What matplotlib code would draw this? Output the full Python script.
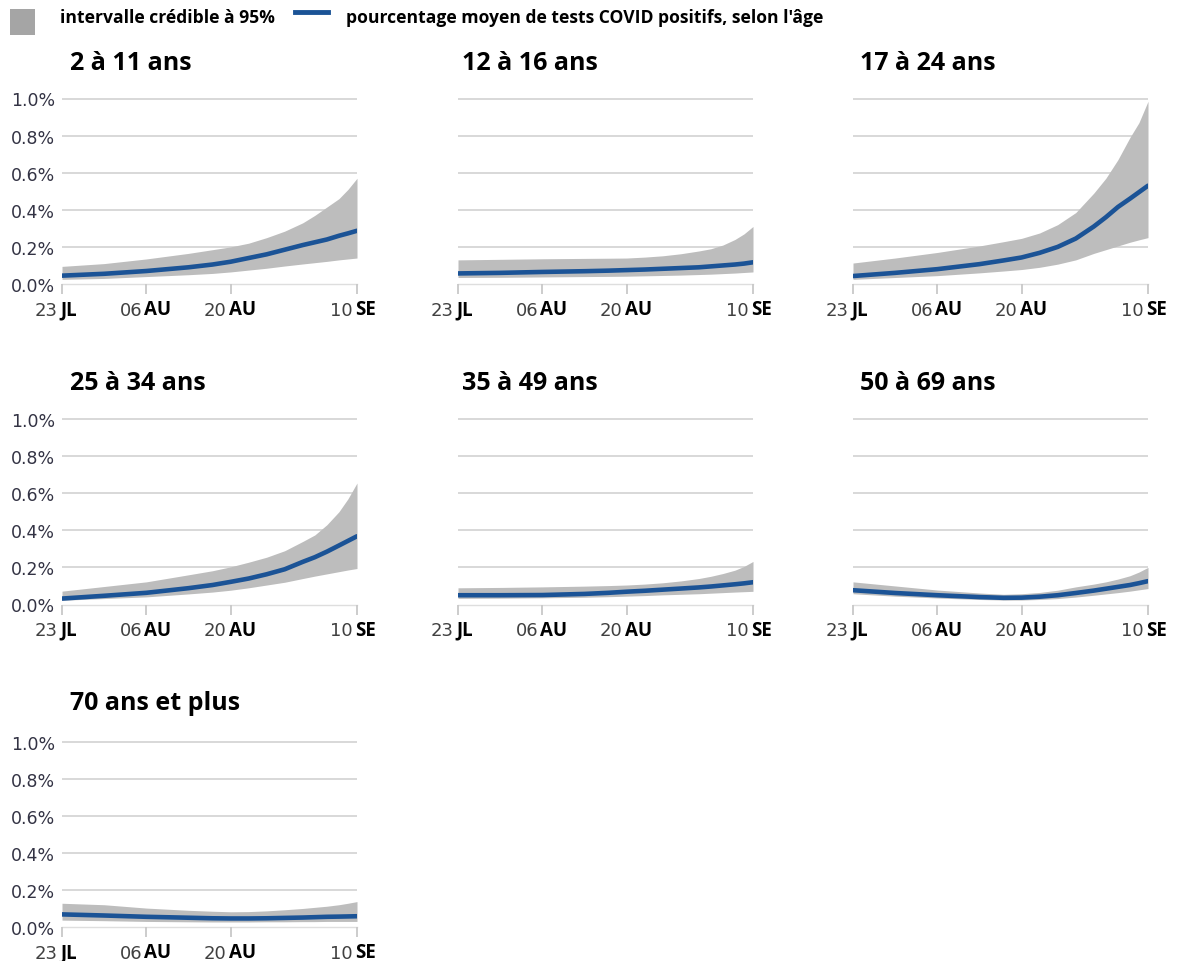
import matplotlib
matplotlib.use("Agg")
import matplotlib.pyplot as plt
from matplotlib.transforms import offset_copy

# days since 23 July
days = [0, 7, 14, 21, 25, 28, 31, 34, 37, 40, 42, 44, 46, 47.5, 49]

titles = ["2 à 11 ans", "12 à 16 ans", "17 à 24 ans", "25 à 34 ans",
          "35 à 49 ans", "50 à 69 ans", "70 ans et plus"]

mean_2_11 = [0.045, 0.055, 0.07, 0.09, 0.105, 0.12, 0.14, 0.16, 0.185, 0.21, 0.225, 0.24, 0.26, 0.273, 0.287]
upper_2_11 = [0.095, 0.11, 0.135, 0.165, 0.185, 0.20, 0.22, 0.25, 0.285, 0.33, 0.37, 0.415, 0.46, 0.51, 0.57]
lower_2_11 = [0.025, 0.03, 0.04, 0.05, 0.057, 0.065, 0.075, 0.085, 0.097, 0.108, 0.115, 0.122, 0.13, 0.135, 0.14]

mean_12_16 = [0.057, 0.06, 0.065, 0.069, 0.072, 0.075, 0.078, 0.082, 0.086, 0.09, 0.095, 0.1, 0.105, 0.11, 0.117]
upper_12_16 = [0.13, 0.133, 0.136, 0.138, 0.139, 0.14, 0.145, 0.152, 0.163, 0.178, 0.19, 0.21, 0.24, 0.27, 0.31]
lower_12_16 = [0.035, 0.036, 0.038, 0.04, 0.041, 0.042, 0.044, 0.046, 0.048, 0.051, 0.053, 0.056, 0.059, 0.062, 0.065]

mean_17_24 = [0.043, 0.06, 0.08, 0.107, 0.127, 0.143, 0.168, 0.2, 0.245, 0.31, 0.36, 0.415, 0.46, 0.495, 0.53]
upper_17_24 = [0.113, 0.14, 0.17, 0.205, 0.228, 0.246, 0.275, 0.32, 0.385, 0.49, 0.57, 0.67, 0.79, 0.87, 0.985]
lower_17_24 = [0.025, 0.035, 0.045, 0.06, 0.07, 0.078, 0.09, 0.107, 0.13, 0.165, 0.185, 0.205, 0.225, 0.238, 0.25]

mean_25_34 = [0.032, 0.047, 0.063, 0.088, 0.105, 0.122, 0.14, 0.163, 0.19, 0.23, 0.255, 0.285, 0.318, 0.343, 0.368]
upper_25_34 = [0.072, 0.097, 0.122, 0.16, 0.182, 0.203, 0.228, 0.255, 0.29, 0.34, 0.375, 0.43, 0.5, 0.57, 0.655]
lower_25_34 = [0.023, 0.032, 0.041, 0.057, 0.067, 0.077, 0.09, 0.105, 0.12, 0.14, 0.153, 0.165, 0.177, 0.186, 0.194]

mean_35_49 = [0.05, 0.05, 0.051, 0.057, 0.063, 0.069, 0.074, 0.08, 0.086, 0.092, 0.097, 0.103, 0.109, 0.114, 0.12]
upper_35_49 = [0.09, 0.092, 0.095, 0.099, 0.102, 0.105, 0.11, 0.117, 0.127, 0.14, 0.152, 0.167, 0.185, 0.205, 0.232]
lower_35_49 = [0.033, 0.034, 0.036, 0.039, 0.042, 0.045, 0.048, 0.052, 0.055, 0.058, 0.061, 0.064, 0.067, 0.069, 0.071]

mean_50_69 = [0.077, 0.062, 0.05, 0.04, 0.036, 0.037, 0.042, 0.05, 0.062, 0.075, 0.085, 0.095, 0.105, 0.115, 0.126]
upper_50_69 = [0.122, 0.1, 0.078, 0.062, 0.055, 0.058, 0.065, 0.077, 0.095, 0.11, 0.122, 0.137, 0.155, 0.175, 0.2]
lower_50_69 = [0.058, 0.045, 0.035, 0.027, 0.024, 0.024, 0.027, 0.032, 0.04, 0.05, 0.057, 0.064, 0.072, 0.079, 0.086]

mean_70 = [0.068, 0.062, 0.055, 0.05, 0.047, 0.046, 0.046, 0.047, 0.049, 0.051, 0.053, 0.055, 0.056, 0.057, 0.058]
upper_70 = [0.128, 0.12, 0.102, 0.09, 0.085, 0.082, 0.083, 0.087, 0.093, 0.1, 0.106, 0.112, 0.12, 0.128, 0.137]
lower_70 = [0.037, 0.034, 0.03, 0.028, 0.027, 0.027, 0.027, 0.028, 0.028, 0.029, 0.029, 0.03, 0.03, 0.03, 0.03]

means = [mean_2_11, mean_12_16, mean_17_24, mean_25_34, mean_35_49, mean_50_69, mean_70]
uppers = [upper_2_11, upper_12_16, upper_17_24, upper_25_34, upper_35_49, upper_50_69, upper_70]
lowers = [lower_2_11, lower_12_16, lower_17_24, lower_25_34, lower_35_49, lower_50_69, lower_70]

tick_days = [0, 14, 28, 49]
tick_nums = ["23", "06", "20", "10"]
tick_months = ["JL", "AU", "AU", "SE"]
y_ticks = [0.0, 0.2, 0.4, 0.6, 0.8, 1.0]

W, H = 1177, 962
fig = plt.figure(figsize=(W / 100, H / 100), dpi=100)

BLUE = "#1b5396"
GREY_FILL = "#bdbdbd"
BOLD = "Open Sans"

col_left = [62, 458, 853]
row_zero = [285, 605.5, 928]
title_y = [63, 384, 704]
title_x = [70, 462, 860]
per_unit = 185.5
ax_w = 295
ax_h = per_unit * 1.01

for i in range(7):
    r, c = divmod(i, 3)
    ax = fig.add_axes([col_left[c] / W, 1 - row_zero[r] / H, ax_w / W, ax_h / H])
    ax.fill_between(days, lowers[i], uppers[i], color=GREY_FILL, lw=0)
    ax.plot(days, means[i], color=BLUE, lw=3.3, solid_capstyle="round")
    ax.set_xlim(0, 49)
    ax.set_ylim(0, 1.01)
    ax.set_yticks(y_ticks)
    for yv in y_ticks[1:]:
        ax.axhline(yv, color="#d6d6d6", lw=1.3, zorder=0)
    ax.axhline(0, color="#dedede", lw=1.0, zorder=0, clip_on=False)
    if c == 0:
        ax.set_yticklabels([f"{v:.1f}%" for v in y_ticks], color="#333344", fontsize=12.5)
    else:
        ax.set_yticklabels([])
    ax.tick_params(axis="y", length=0, pad=5)
    ax.set_xticks(tick_days)
    ax.set_xticklabels([])
    ax.tick_params(axis="x", length=7, width=1.3, color="#c8c8c8", direction="out")
    for s in ax.spines.values():
        s.set_visible(False)
    tr = ax.get_xaxis_transform()
    for d, num, mon in zip(tick_days, tick_nums, tick_months):
        ax.text(d, -31 / ax_h, num, transform=offset_copy(tr, fig=fig, x=-4, y=0, units="dots"),
                ha="right", va="baseline", fontsize=13, color="#404040")
        ax.text(d, -30 / ax_h, mon, transform=offset_copy(tr, fig=fig, x=-2, y=0, units="dots"),
                ha="left", va="baseline", fontsize=13.5, color="black", family=BOLD, fontweight="bold")
    fig.text(title_x[c] / W, 1 - title_y[r] / H, titles[i], ha="left", va="center",
             fontsize=18, family=BOLD, fontweight="bold")

# legend
fig.patches.append(plt.Rectangle((10 / W, 1 - 36 / H), 25 / W, 26 / H, transform=fig.transFigure,
                                 facecolor="#a5a5a5", edgecolor="none"))
fig.text(60 / W, 1 - 18 / H, "intervalle crédible à 95%", ha="left", va="center",
         fontsize=12.6, family=BOLD, fontweight="bold")
fig.lines.append(plt.Line2D([295 / W, 328 / W], [1 - 13 / H, 1 - 13 / H], transform=fig.transFigure,
                            color=BLUE, lw=3.5))
fig.text(346 / W, 1 - 18 / H, "pourcentage moyen de tests COVID positifs, selon l'âge", ha="left",
         va="center", fontsize=12.6, family=BOLD, fontweight="bold")

fig.savefig("out.png", dpi=100)
